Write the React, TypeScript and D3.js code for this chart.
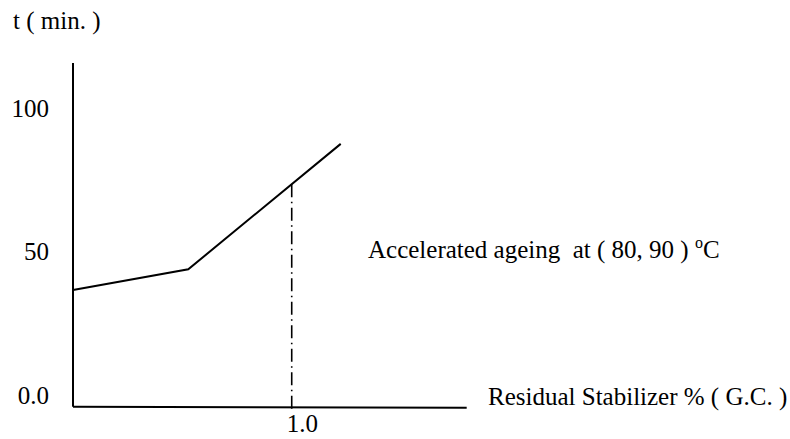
import React from "react";
import * as d3 from "d3";

const residualStabilizer = [0, 0.527, 1.224];
const timeMinutes = [36.6, 43.8, 87.5];
const yTickValues = [0, 50, 100];
const yTickLabels = ["0.0", "50", "100"];
const xTickValues = [1.0];
const xTickLabels = ["1.0"];
const yAxisLabel = "t ( min. )";
const xAxisLabel = "Residual Stabilizer % ( G.C. )";
const annotation = "Accelerated ageing  at ( 80, 90 ) ";
const xDomain = [0, 1.8];
const yDomain = [-4.1, 115.7];

const W = 790;
const H = 439;
const FONT = "'Liberation Serif', 'Times New Roman', serif";

export default function App() {
  const x = d3.scaleLinear().domain(xDomain).range([73, 466.7]);
  const y = d3.scaleLinear().domain([0, 100]).range([395, 108]);

  const pts: [number, number][] = residualStabilizer.map((v, i) => [v, timeMinutes[i]]);
  const line = d3
    .line<[number, number]>()
    .x((d) => x(d[0]))
    .y((d) => y(d[1]));

  const interp = d3.scaleLinear().domain(residualStabilizer).range(timeMinutes);
  const x0 = x(xDomain[0]);
  const yBottom = y(yDomain[0]);

  return (
    <svg
      width={W}
      height={H}
      style={{ position: "absolute", left: 0, top: 0, background: "#fff" }}
      fontFamily={FONT}
      fontSize={25}
    >
      <rect width={W} height={H} fill="#fff" />
      <line x1={x0} x2={x0} y1={y(yDomain[1])} y2={yBottom} stroke="#000" strokeWidth={2} />
      <line x1={x0} x2={x(xDomain[1])} y1={yBottom} y2={yBottom + 1} stroke="#000" strokeWidth={2} />
      {xTickValues.map((v, i) => (
        <g key={"xt" + i}>
          <line
            x1={x(v)}
            x2={x(v)}
            y1={y(interp(v))}
            y2={yBottom + 3}
            stroke="#000"
            strokeWidth={1.6}
            strokeDasharray="13,4.5,1.5,4.5"
          />
          <text x={x(v) - 5} y={432} fill="#000">
            {xTickLabels[i]}
          </text>
        </g>
      ))}
      <path d={line(pts) || ""} fill="none" stroke="#000" strokeWidth={2} />
      {yTickValues.map((v, i) => (
        <text key={"yt" + i} x={49} y={y(v)} dy="0.35em" textAnchor="end" fill="#000">
          {yTickLabels[i]}
        </text>
      ))}
      <text x={13} y={29} fill="#000">
        {yAxisLabel}
      </text>
      <text x={488} y={405} fill="#000">
        {xAxisLabel}
      </text>
      <text x={368} y={258} fill="#000" style={{ whiteSpace: "pre" }}>
        {annotation}
        <tspan fontSize={16} dy={-10}>o</tspan>
        <tspan dy={10}>C</tspan>
      </text>
    </svg>
  );
}
